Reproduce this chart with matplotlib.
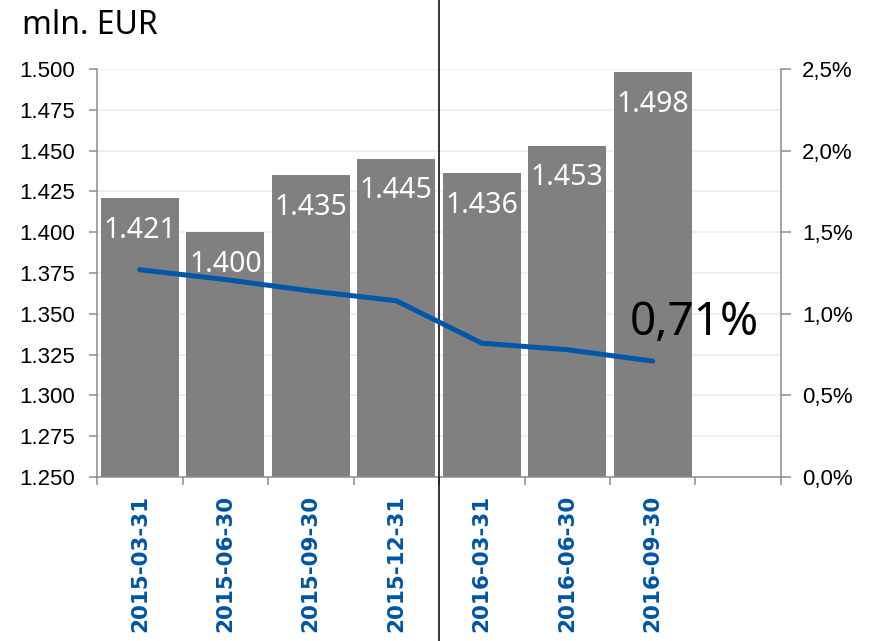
import matplotlib
matplotlib.use("Agg")
import matplotlib.pyplot as plt
from matplotlib.ticker import FixedLocator, FuncFormatter
import numpy as np

dates = ["2015-03-31", "2015-06-30", "2015-09-30", "2015-12-31",
         "2016-03-31", "2016-06-30", "2016-09-30"]
amounts = [1421, 1400, 1435, 1445, 1436, 1453, 1498]
ratio_pct = [1.27, 1.21, 1.14, 1.08, 0.82, 0.78, 0.71]
last_label = "0,71%"
unit_label = "mln. EUR"

W, H = 873, 641
fig = plt.figure(figsize=(W / 100, H / 100), dpi=100)
L, R, T, B = 97, 781, 69, 477
ax = fig.add_axes([L / W, 1 - B / H, (R - L) / W, (B - T) / H])
ax2 = ax.twinx()

gray_axis = "#8c8c8c"
blue_txt = "#0055a4"
line_blue = "#0057a8"

x = np.arange(len(dates))
ax.bar(x, amounts, width=0.915, color="#808080", zorder=2)
ax.set_xlim(-0.5, len(dates) + 0.5)
ax.set_ylim(1250, 1500)
ax.yaxis.set_major_locator(FixedLocator(np.arange(1250, 1501, 25)))
ax.yaxis.set_major_formatter(FuncFormatter(lambda v, p: f"{v/1000:.3f}"))
ax.grid(axis="y", color="#ebebeb", lw=1.1, zorder=0)
ax.set_axisbelow(True)

for xi, v in zip(x, amounts):
    ax.annotate(f"{v/1000:.3f}", (xi, v), xytext=(0, -28.5), textcoords="offset points",
                ha="center", va="baseline", color="white", fontsize=20.5,
                family="Noto Sans", zorder=5)

ax.set_xticks(x)
ax.set_xticklabels(dates, rotation=90, fontsize=15.5, fontweight="bold",
                   color=blue_txt, family="DejaVu Sans")
ax.tick_params(axis="x", which="major", length=0, pad=13)
ax.set_xticks(np.arange(-0.5, len(dates) + 0.6, 1), minor=True)
ax.tick_params(axis="x", which="minor", length=6, width=1.1, color=gray_axis, direction="out")
ax.tick_params(axis="y", length=6, width=1.1, color=gray_axis, pad=10, labelsize=16)
for lab in ax.get_yticklabels():
    lab.set_family("Liberation Sans")

for s in ["top", "right"]:
    ax.spines[s].set_visible(False)
for s in ["left", "bottom"]:
    ax.spines[s].set_color(gray_axis)
    ax.spines[s].set_linewidth(1.1)

ax2.set_ylim(0, 2.5)
ax2.yaxis.set_major_locator(FixedLocator(np.arange(0, 2.51, 0.5)))
ax2.yaxis.set_major_formatter(FuncFormatter(lambda v, p: f"{v:.1f}".replace(".", ",") + "%"))
ax2.tick_params(axis="y", length=7, width=1.1, color=gray_axis, pad=8, labelsize=16)
for lab in ax2.get_yticklabels():
    lab.set_family("Liberation Sans")
for s in ["top", "left", "bottom"]:
    ax2.spines[s].set_visible(False)
ax2.spines["right"].set_color(gray_axis)
ax2.spines["right"].set_linewidth(1.1)

ax2.plot(x, ratio_pct, color=line_blue, lw=3.6, solid_capstyle="round", zorder=4)
ax2.text(5.73, 0.872, last_label, fontsize=33, family="Noto Sans", color="black",
         va="baseline", ha="left", zorder=6)

# vertical separator between years
ax2.axvline(3.5, ymin=-0.41, ymax=1.2, color="black", lw=1.1, clip_on=False, zorder=3)

fig.text(22 / W, 1 - 25 / H, unit_label, fontsize=23, family="Noto Sans",
         va="center", ha="left")

fig.savefig("out.png", dpi=100)
